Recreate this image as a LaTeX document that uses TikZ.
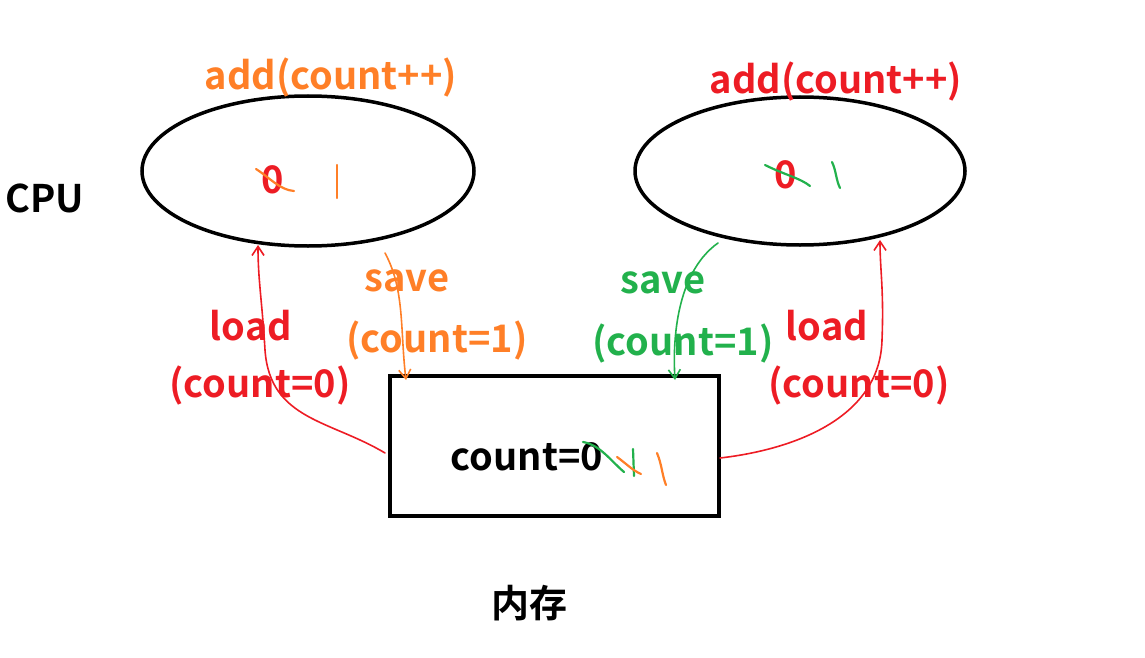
\documentclass[tikz,border=0pt]{standalone}
\usepackage{fontspec}
\usetikzlibrary{shapes.geometric,arrows.meta}
\setmainfont{Noto Sans CJK SC Bold}
\begin{document}
\begin{tikzpicture}[x=1pt,y=-1pt,
  lbl/.style={font=\fontsize{38}{40}\selectfont, inner sep=0pt},
  stroke/.style={line width=2.2pt, line cap=round, line join=round},
  arr/.style={stroke, ->, >={Straight Barb[length=9pt,width=12pt]}}]
\definecolor{ora}{RGB}{255,127,39}
\definecolor{rd}{RGB}{237,28,36}
\definecolor{gr}{RGB}{34,177,76}
\useasboundingbox (0,0) rectangle (1145,658);
\node[draw, line width=3.5pt, ellipse, minimum width=332pt, minimum height=150pt, inner sep=0pt] (e1) at (308,171) {};
\node[draw, line width=3.5pt, ellipse, minimum width=330pt, minimum height=148pt, inner sep=0pt] (e2) at (800,171) {};
\node[draw, line width=3.5pt, minimum width=329pt, minimum height=140pt, inner sep=0pt] (m) at (554.5,446) {};
\node[lbl, text=ora] (a1) at (331,78) {add(count++)};
\node[lbl, text=rd] (a2) at (836,82) {add(count++)};
\node[lbl] (cpu) at (45,198) {CPU};
\node[lbl] (mem) at (529,603) {内存};
\node[lbl] (cnt) at (527,457) {count=0};
\node[lbl, text=rd] (z1) at (273,180) {0};
\node[lbl, text=rd] (z2) at (786,175) {0};
\node[lbl, text=rd] (l1) at (251,326) {load};
\node[lbl, text=rd] (l1b) at (260,386) {(count=0)};
\node[lbl, text=ora] (s1) at (407,281) {save};
\node[lbl, text=ora] (s1b) at (437,341) {(count=1)};
\node[lbl, text=gr] (s2) at (663,283) {save};
\node[lbl, text=gr] (s2b) at (683,344) {(count=1)};
\node[lbl, text=rd] (l2) at (827,326) {load};
\node[lbl, text=rd] (l2b) at (859,386) {(count=0)};
% hand strokes
\draw[stroke, ora] (256,169) .. controls (270,178) and (280,190) .. (294,191);
\draw[stroke, ora] (337,165) -- (337,198);
\draw[stroke, gr] (765,165) .. controls (785,175) and (800,178) .. (810,186);
\draw[stroke, gr] (832,162) .. controls (836,170) and (836,180) .. (840,188);
\draw[stroke, gr] (583,442) .. controls (600,445) and (610,460) .. (624,472);
\draw[stroke, gr] (633,449) -- (634,476);
\draw[stroke, ora] (617,457) .. controls (628,465) and (632,470) .. (641,474);
\draw[stroke, ora] (657,453) .. controls (662,465) and (662,475) .. (666,485);
% connectors
\coordinate (p1) at (385,453);
\coordinate (q1) at (258,245);
\draw[arr, rd, line width=1.6pt] (p1) .. controls (330,420) and (270,420) .. (265,350) .. controls (262,300) and (258,280) .. (q1);
\coordinate (p2) at (385,253);
\coordinate (q2) at (406,380);
\draw[arr, ora, line width=1.6pt] (p2) .. controls (405,290) and (400,330) .. (q2);
\coordinate (p3) at (718,243);
\coordinate (q3) at (675,380);
\draw[arr, gr, line width=1.6pt] (p3) .. controls (680,270) and (672,330) .. (q3);
\coordinate (p4) at (720,458);
\coordinate (q4) at (880,240);
\draw[arr, rd, line width=1.6pt] (p4) .. controls (790,450) and (880,420) .. (882,340) .. controls (884,290) and (880,270) .. (q4);
\end{tikzpicture}
\end{document}
